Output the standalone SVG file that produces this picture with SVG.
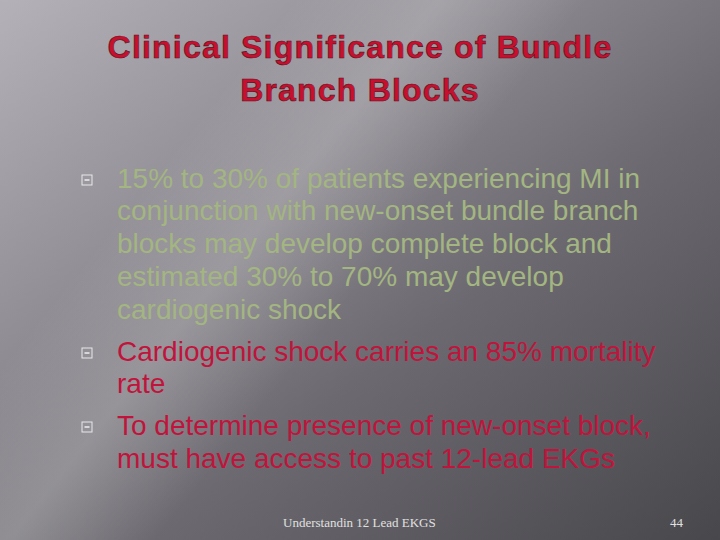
<svg xmlns="http://www.w3.org/2000/svg" width="720" height="540" viewBox="0 0 720 540">
<defs>
<linearGradient id="bg" x1="0" y1="0" x2="1" y2="1">
<stop offset="0" stop-color="#b4b2b8"/>
<stop offset="0.35" stop-color="#8d8a91"/>
<stop offset="0.6" stop-color="#6c6a70"/>
<stop offset="1" stop-color="#48474c"/>
</linearGradient>
<linearGradient id="streak" x1="0" y1="0" x2="1" y2="0.6">
<stop offset="0.3" stop-color="#fff" stop-opacity="0"/>
<stop offset="0.45" stop-color="#fff" stop-opacity="0.18"/>
<stop offset="0.6" stop-color="#fff" stop-opacity="0"/>
</linearGradient>
<g id="bul"><rect x="-5" y="-5" width="10" height="10" fill="none" stroke="#e8e8e8" stroke-width="1"/><rect x="-2.5" y="-0.8" width="5" height="1.6" fill="#e8e8e8"/></g>
</defs>
<style>
.t{font-family:"Liberation Sans",Arial,sans-serif;font-size:28px}
.g{fill:#a3b581}
.r{fill:#c0143c}
.title{font-family:"Liberation Sans",Arial,sans-serif;font-size:32px;font-weight:bold;letter-spacing:1.2px;fill:#c8102e;text-anchor:middle;stroke:#5a1020;stroke-width:0.6}
.f{font-family:"Liberation Serif","Times New Roman",serif;font-size:13px;fill:#e0e0e0}
</style>
<rect width="720" height="540" fill="url(#bg)"/>
<rect width="720" height="540" fill="url(#streak)"/>
<text class="title" x="360" y="58">Clinical Significance of Bundle</text>
<text class="title" x="360" y="101">Branch Blocks</text>
<use href="#bul" x="87" y="180"/>
<use href="#bul" x="87" y="353"/>
<use href="#bul" x="87" y="427"/>
<g class="t g">
<text x="117" y="188">15% to 30% of patients experiencing MI in</text>
<text x="117" y="220">conjunction with new-onset bundle branch</text>
<text x="117" y="253">blocks may develop complete block and</text>
<text x="117" y="286">estimated 30% to 70% may develop</text>
<text x="117" y="319">cardiogenic shock</text>
</g>
<g class="t r">
<text x="117" y="361">Cardiogenic shock carries an 85% mortality</text>
<text x="117" y="393">rate</text>
<text x="117" y="435">To determine presence of new-onset block,</text>
<text x="117" y="468">must have access to past 12-lead EKGs</text>
</g>
<text class="f" x="283" y="527">Understandin 12 Lead EKGS</text>
<text class="f" x="670" y="527">44</text>
</svg>
